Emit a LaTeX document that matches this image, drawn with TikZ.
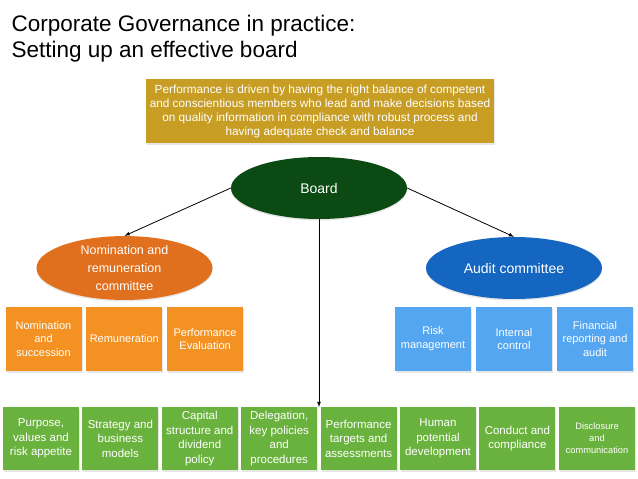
\documentclass[tikz,border=0pt]{standalone}
\usepackage{fontspec}
\setmainfont{Liberation Sans}
\usetikzlibrary{shapes.geometric,shadows}
\definecolor{goldbox}{HTML}{C79D24}
\definecolor{boardgreen}{HTML}{0B4A12}
\definecolor{nomorange}{HTML}{E0701E}
\definecolor{auditblue}{HTML}{1466C0}
\definecolor{taskorange}{HTML}{F39223}
\definecolor{taskblue}{HTML}{54A6F0}
\definecolor{taskgreen}{HTML}{6AB23E}
\tikzset{
  taskbox/.style={minimum width=76pt, minimum height=63pt, inner sep=1pt, align=center, text=white,
    font=\fontsize{11}{13.7}\selectfont, drop shadow={shadow xshift=1pt,shadow yshift=-1.5pt,opacity=0.2}},
  committee/.style={ellipse, minimum width=176pt, minimum height=62pt, inner sep=0pt, align=center, text=white,
    drop shadow={shadow xshift=0pt,shadow yshift=-1.5pt,opacity=0.2}}
}
\begin{document}
\begin{tikzpicture}[x=1pt,y=-1pt]
\useasboundingbox (0,0) rectangle (638,479);
\node[anchor=base west, font=\fontsize{22.5}{26}\selectfont] (title) at (8,31) {Corporate Governance in practice:};
\node[anchor=base west, font=\fontsize{22.5}{26}\selectfont] (subtitle) at (8,57) {Setting up an effective board};
\node[fill=goldbox, minimum width=348pt, minimum height=64pt, inner sep=0pt, align=center, text=white,
  font=\fontsize{11.8}{14}\selectfont, drop shadow={shadow xshift=1pt,shadow yshift=-1.5pt,opacity=0.2}] (perf) at (320,111)
  {Performance is driven by having the right balance of competent\\
   and conscientious members who lead and make decisions based\\
   on quality information in compliance with robust process and\\
   having adequate check and balance};
\node[committee, fill=boardgreen, font=\fontsize{14}{17}\selectfont] (board) at (319,188) {Board};
\node[committee, fill=nomorange, font=\fontsize{12.5}{18}\selectfont] (nomcom) at (124.5,268) {Nomination and\\remuneration\\committee};
\node[committee, fill=auditblue, font=\fontsize{14}{17}\selectfont] (audcom) at (514,268) {Audit committee};
\foreach \n/\ntext in {1/{Nomination\\and\\succession}, 2/Remuneration, 3/{Performance\\Evaluation}}
  \node[taskbox, fill=taskorange, minimum height=64pt] (nom\n) at ({43.5+(\n-1)*80.8},339) {\ntext};
\foreach \n/\ntext in {1/{Risk\\management}, 2/{Internal\\control}, 3/{Financial\\reporting and\\audit}}
  \node[taskbox, fill=taskblue, minimum height=64pt] (aud\n) at ({433+(\n-1)*81},339) {\ntext};
\foreach \n/\ntext in {1/{Purpose,\\values and\\risk appetite}, 2/{Strategy and\\business\\models},
  3/{Capital\\structure and\\dividend\\policy}, 4/{Delegation,\\key policies\\and\\procedures},
  5/{Performance\\targets and\\assessments}, 6/{Human\\potential\\development}, 7/{Conduct and\\compliance}}
  \node[taskbox, fill=taskgreen, font=\fontsize{11.5}{14.4}\selectfont] (gov\n) at ({41+(\n-1)*79.4},438.5) {\ntext};
\node[taskbox, fill=taskgreen, font=\fontsize{9.3}{12}\selectfont] (gov8) at (597,438.5) {Disclosure\\and\\communication};
\coordinate (rowtop) at (319,407);
\draw[-latex, line width=0.8pt] (board.west) -- (nomcom.north);
\draw[-latex, line width=0.8pt] (board.east) -- (audcom.north);
\draw[-latex, line width=0.8pt] (board.south) -- (rowtop);
\end{tikzpicture}
\end{document}
